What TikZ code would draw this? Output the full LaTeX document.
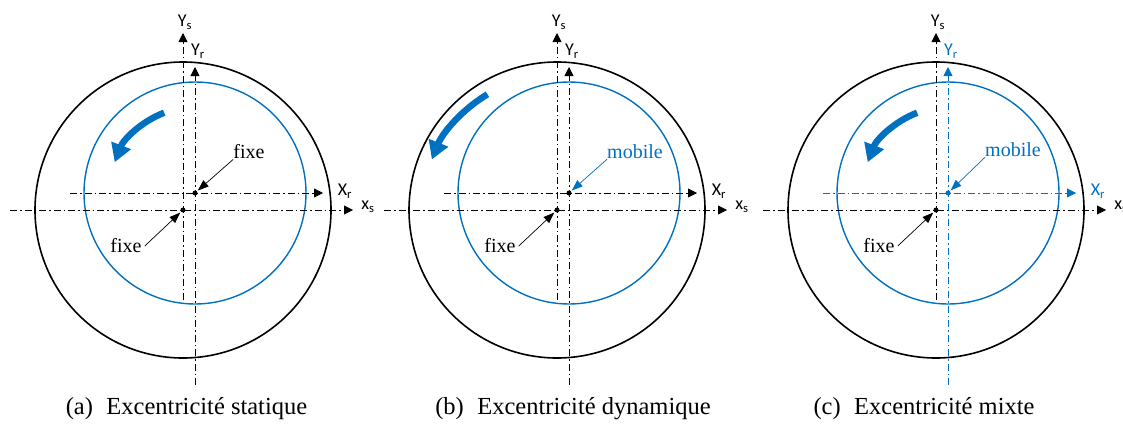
\documentclass[tikz,border=0pt]{standalone}
\usepackage{fontspec}
\setmainfont{Liberation Serif}
\newfontfamily\calib{Carlito}
\usetikzlibrary{arrows.meta}
\definecolor{mblue}{RGB}{0,112,192}
\begin{document}
\begin{tikzpicture}[x=1pt,y=-1pt,
  stator/.style={draw=black,line width=1.6pt},
  rotor/.style={draw=mblue,line width=1.4pt},
  axis/.style={line width=0.8pt,dash pattern=on 7pt off 3pt on 1.5pt off 3pt,-{Triangle[length=9pt,width=9pt]}},
  axlab/.style={font=\calib\fontsize{18}{18}\selectfont,inner sep=0pt},
  lab/.style={font=\fontsize{20}{20}\selectfont,inner sep=0pt},
  captext/.style={font=\fontsize{24.5}{25}\selectfont,inner sep=0pt},
  pointer/.style={line width=0.7pt,shorten >=1pt,-{Triangle[length=11pt,width=8pt]}},
  turn/.style={draw=mblue,line width=6.5pt,-{Triangle[length=18pt,width=20pt]}},
  dot/.style={circle,fill,inner sep=0pt,minimum size=5pt}
]
\useasboundingbox (0,0) rectangle (1123,426);

% ---------------- panel (a)
\coordinate (aS) at (183,210);
\coordinate (aR) at (195,193);
\draw[stator] (aS) circle[radius=148];
\draw[rotor] (aR) circle[radius=111];
\coordinate (aXs0) at (10,210);  \coordinate (aXs1) at (353,210);
\coordinate (aYs0) at (183,300); \coordinate (aYs1) at (183,33);
\coordinate (aXr0) at (70,193);  \coordinate (aXr1) at (323,193);
\coordinate (aYr0) at (195,385); \coordinate (aYr1) at (195,67);
\draw[axis] (aXs0) -- (aXs1);
\draw[axis] (aYs0) -- (aYs1);
\draw[axis] (aXr0) -- (aXr1);
\draw[axis] (aYr0) -- (aYr1);
\node[axlab] (aYsl) at (185,22) {Y\textsubscript{s}};
\node[axlab] (aYrl) at (198,51) {Y\textsubscript{r}};
\node[axlab] (aXrl) at (345,191) {X\textsubscript{r}};
\node[axlab] (aXsl) at (368,207) {x\textsubscript{s}};
\node[dot] (aSd) at (aS) {};
\node[dot] (aRd) at (aR) {};
\node[lab] (afx1) at (249,152) {fixe};
\node[lab] (afx2) at (126,246) {fixe};
\draw[pointer] (afx1.south west) -- (aRd);
\draw[pointer] ([xshift=3pt]afx2.east) -- (aSd);
\draw[turn] ([shift={(-111:86)}]aR) arc[start angle=-111,end angle=-159,radius=86];
\node[captext] (acap) at (186.5,409) {(a)\hspace{0.55em}Excentricité statique};

% ---------------- panel (b)
\coordinate (bS) at (557,210);
\coordinate (bR) at (569,193);
\draw[stator] (bS) circle[radius=148];
\draw[rotor] (bR) circle[radius=111];
\coordinate (bXs0) at (384,210); \coordinate (bXs1) at (727,210);
\coordinate (bYs0) at (557,300); \coordinate (bYs1) at (557,33);
\coordinate (bXr0) at (444,193); \coordinate (bXr1) at (697,193);
\coordinate (bYr0) at (569,385); \coordinate (bYr1) at (569,67);
\draw[axis] (bXs0) -- (bXs1);
\draw[axis] (bYs0) -- (bYs1);
\draw[axis] (bXr0) -- (bXr1);
\draw[axis] (bYr0) -- (bYr1);
\node[axlab] (bYsl) at (559,22) {Y\textsubscript{s}};
\node[axlab] (bYrl) at (572,51) {Y\textsubscript{r}};
\node[axlab] (bXrl) at (719,191) {X\textsubscript{r}};
\node[axlab] (bXsl) at (742,207) {x\textsubscript{s}};
\node[dot] (bSd) at (bS) {};
\node[dot] (bRd) at (bR) {};
\node[lab,text=mblue] (bmo) at (635,152) {mobile};
\node[lab] (bfx2) at (500,246) {fixe};
\draw[pointer,mblue] (bmo.south west) -- (bRd);
\draw[pointer] ([xshift=3pt]bfx2.east) -- (bSd);
\draw[turn] ([shift={(-121:135)}]bS) arc[start angle=-121,end angle=-158,radius=135];
\node[captext] (bcap) at (573,409) {(b)\hspace{0.55em}Excentricité dynamique};

% ---------------- panel (c)
\coordinate (cS) at (936,210);
\coordinate (cR) at (948,193);
\draw[stator] (cS) circle[radius=148];
\draw[rotor] (cR) circle[radius=111];
\coordinate (cXs0) at (763,210); \coordinate (cXs1) at (1106,210);
\coordinate (cYs0) at (936,300); \coordinate (cYs1) at (936,33);
\coordinate (cXr0) at (823,193); \coordinate (cXr1) at (1076,193);
\coordinate (cYr0) at (948,385); \coordinate (cYr1) at (948,67);
\draw[axis] (cXs0) -- (cXs1);
\draw[axis] (cYs0) -- (cYs1);
\draw[axis,mblue] (cXr0) -- (cXr1);
\draw[axis,mblue] (cYr0) -- (cYr1);
\node[axlab] (cYsl) at (938,22) {Y\textsubscript{s}};
\node[axlab,text=mblue] (cYrl) at (951,51) {Y\textsubscript{r}};
\node[axlab,text=mblue] (cXrl) at (1098,191) {X\textsubscript{r}};
\node[axlab] (cXsl) at (1121,207) {x\textsubscript{s}};
\node[dot] (cSd) at (cS) {};
\node[dot,mblue] (cRd) at (cR) {};
\node[lab,text=mblue] (cmo) at (1013,150) {mobile};
\node[lab] (cfx2) at (879,246) {fixe};
\draw[pointer,mblue] (cmo.south west) -- (cRd);
\draw[pointer] ([xshift=3pt]cfx2.east) -- (cSd);
\draw[turn] ([shift={(-111:86)}]cR) arc[start angle=-111,end angle=-159,radius=86];
\node[captext] (ccap) at (924,409) {(c)\hspace{0.55em}Excentricité mixte};
\end{tikzpicture}
\end{document}
